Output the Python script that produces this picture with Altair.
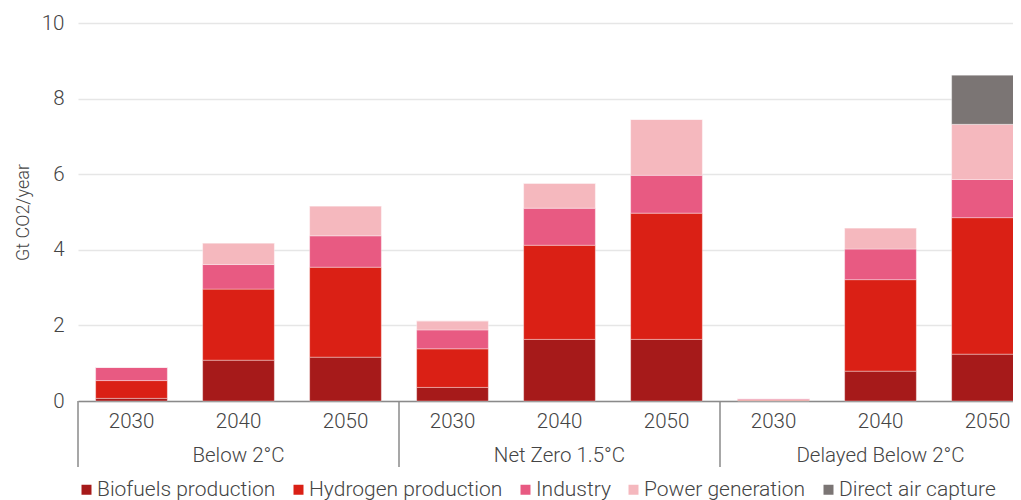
import altair as alt
import pandas as pd

scenarios = ["Below 2°C", "Net Zero 1.5°C", "Delayed Below 2°C"]
years = ["2030", "2040", "2050"]
series = ["Biofuels production", "Hydrogen production", "Industry", "Power generation", "Direct air capture"]
colors = ["#A61A1A", "#DA2015", "#E85A82", "#F5B8BE", "#7B7574"]

biofuels = [0.07, 1.08, 1.16, 0.36, 1.63, 1.63, 0.01, 0.79, 1.24]
hydrogen = [0.47, 1.88, 2.38, 1.02, 2.49, 3.34, 0.02, 2.42, 3.61]
industry = [0.35, 0.65, 0.83, 0.50, 0.98, 1.00, 0.03, 0.81, 1.01]
power = [0.00, 0.57, 0.79, 0.24, 0.66, 1.48, 0.00, 0.56, 1.46]
dac = [0.00, 0.00, 0.00, 0.00, 0.00, 0.00, 0.00, 0.00, 1.30]

values_by_series = [biofuels, hydrogen, industry, power, dac]

keys = [f"{s}|{y}" for s in scenarios for y in years]
rows = []
for si, (name, vals) in enumerate(zip(series, values_by_series)):
    for k, v in zip(keys, vals):
        rows.append({"key": k, "series": name, "order": si, "value": v})
df = pd.DataFrame(rows)

group_df = pd.DataFrame({"scenario": scenarios, "pos": [1.5, 4.5, 7.5]})
sep_df = pd.DataFrame({"pos": [0, 3, 6, 9]})

W = 963
H = 378
FONT = "Roboto"
TXT = "#444444"
FS = 20.5

bars = alt.Chart(df).mark_bar(stroke="white", strokeWidth=1, strokeOpacity=0.35).encode(
    x=alt.X("key:O", sort=keys,
            scale=alt.Scale(paddingInner=0.33, paddingOuter=0.165),
            axis=alt.Axis(title=None, labelExpr="split(datum.label, '|')[1]", labelAngle=0,
                          labelFontSize=FS, labelColor=TXT, labelFont=FONT, labelFontWeight=300,
                          labelPadding=10, ticks=False, domainColor="#8a8a8a", domainWidth=1.5,
                          grid=False)),
    y=alt.Y("value:Q", stack="zero",
            scale=alt.Scale(domain=[0, 10], nice=False),
            axis=alt.Axis(title="Gt CO2/year", values=[0, 2, 4, 6, 8, 10], domain=False, ticks=False,
                          labelFontSize=FS, labelColor=TXT, labelFont=FONT, labelFontWeight=300,
                          labelPadding=14, gridColor="#e6e6e6", gridWidth=1.5,
                          titleFontSize=18, titleColor=TXT, titleFont=FONT, titleFontWeight=300,
                          titlePadding=9)),
    color=alt.Color("series:N", scale=alt.Scale(domain=series, range=colors), sort=series,
                    legend=alt.Legend(title=None, orient="none", direction="horizontal", columns=5,
                                      legendX=-2, legendY=456, symbolType="square", symbolSize=100,
                                      symbolStrokeWidth=0, labelFontSize=21, labelColor=TXT,
                                      labelFont=FONT, labelFontWeight=300, labelLimit=400,
                                      labelOffset=0, columnPadding=12, padding=0)),
    order=alt.Order("order:Q", sort="ascending"),
)

xq = alt.X("pos:Q", scale=alt.Scale(domain=[0, 9], nice=False, zero=False), axis=None)

seps = alt.Chart(sep_df).mark_rule(color="#8a8a8a", strokeWidth=1.5).encode(
    x=xq, y=alt.value(H), y2=alt.value(H + 66)
)

group_labels = alt.Chart(group_df).mark_text(
    fontSize=FS, font=FONT, fontWeight=300, color=TXT, baseline="alphabetic", align="center"
).encode(x=xq, y=alt.value(H + 61), text="scenario:N")

chart = alt.layer(bars, seps, group_labels).resolve_scale(x="independent").properties(
    width=W, height=H,
    autosize=alt.AutoSizeParams(type="none"),
    padding={"left": 70, "top": 15, "right": -28, "bottom": 99},
).configure(font=FONT).configure_view(stroke=None)

chart.save("out.html", embed_options={"renderer": "svg", "actions": False})
